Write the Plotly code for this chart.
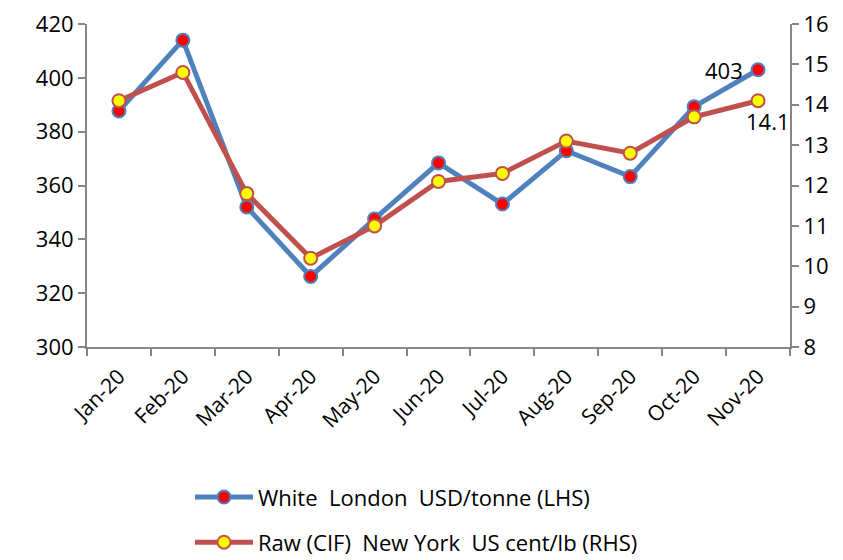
import plotly.graph_objects as go

months = ["Jan-20", "Feb-20", "Mar-20", "Apr-20", "May-20", "Jun-20",
          "Jul-20", "Aug-20", "Sep-20", "Oct-20", "Nov-20"]
white_london = [387.7, 414, 352, 326.2, 347.6, 368.4, 353.1, 372.9, 363.3, 389.3, 403]
raw_ny = [14.1, 14.8, 11.8, 10.2, 11.0, 12.1, 12.3, 13.1, 12.8, 13.7, 14.1]

name_white = "White  London  USD/tonne (LHS)"
name_raw = "Raw (CIF)  New York  US cent/lb (RHS)"

FONT = "Open Sans, Liberation Sans, sans-serif"
AXIS_COLOR = "#868686"

fig = go.Figure()
fig.add_trace(go.Scatter(
    x=months, y=white_london, name=name_white, mode="lines+markers",
    line=dict(color="#4F81BD", width=5),
    marker=dict(color="#FF0000", size=13, line=dict(color="#4F81BD", width=2)),
    legend="legend", yaxis="y",
))
fig.add_trace(go.Scatter(
    x=months, y=raw_ny, name=name_raw, mode="lines+markers",
    line=dict(color="#C0504D", width=5),
    marker=dict(color="#FFFF00", size=13, line=dict(color="#C0504D", width=2)),
    legend="legend2", yaxis="y2",
))

fig.add_annotation(x=months[-1], y=white_london[-1], xref="x", yref="y",
                   text=f"{white_london[-1]:.0f}", showarrow=False,
                   xanchor="right", yanchor="middle", xshift=-13, yshift=0,
                   font=dict(family=FONT, size=22, color="black"))
fig.add_annotation(x=months[-1], y=raw_ny[-1], xref="x", yref="y2",
                   text=f"{raw_ny[-1]:.1f}", showarrow=False,
                   xanchor="center", yanchor="top", xshift=10, yshift=-3,
                   font=dict(family=FONT, size=22, color="black"))

axis_common = dict(
    showline=True, linecolor=AXIS_COLOR, linewidth=2,
    ticks="outside", ticklen=7, tickcolor=AXIS_COLOR, tickwidth=2,
    showgrid=False, zeroline=False, automargin=False,
)

fig.update_layout(
    width=843, height=560,
    margin=dict(l=87, r=53, t=24, b=213, autoexpand=False),
    paper_bgcolor="white", plot_bgcolor="white",
    font=dict(family=FONT, size=22, color="black"),
    showlegend=True,
    xaxis=dict(
        type="category", range=[-0.5, 10.5], tickson="boundaries",
        tickangle=-45, ticklabelstandoff=7,
        tickfont=dict(family=FONT, size=21), **axis_common,
    ),
    yaxis=dict(
        range=[300, 420], dtick=20, tick0=300,
        tickfont=dict(family=FONT, size=22), **axis_common,
    ),
    yaxis2=dict(
        range=[8, 16], dtick=1, tick0=8, overlaying="y", side="right",
        tickfont=dict(family=FONT, size=22), **axis_common,
    ),
    legend=dict(x=0.1465, y=-0.40, xanchor="left", yanchor="top",
                font=dict(family=FONT, size=22), bgcolor="rgba(0,0,0,0)",
                itemwidth=58),
    legend2=dict(x=0.1465, y=-0.54, xanchor="left", yanchor="top",
                 font=dict(family=FONT, size=22), bgcolor="rgba(0,0,0,0)",
                 itemwidth=58),
)

fig.write_html("out.html")
